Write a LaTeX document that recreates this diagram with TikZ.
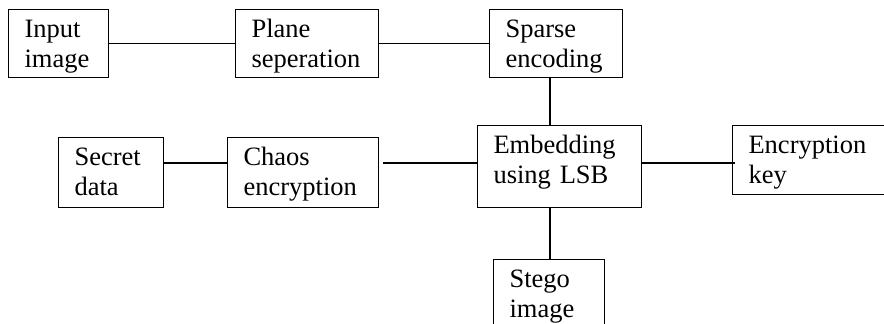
\documentclass[tikz,border=0pt]{standalone}
\usepackage{fontspec}
\setmainfont{Liberation Serif}
\usepackage{tikz}
\usetikzlibrary{positioning}

\tikzset{
    blk/.style={draw, line width=1.1pt, anchor=north west, align=left,
        inner xsep=16pt, inner ysep=0pt, text height=28pt,
        font=\fontsize{26.5}{30}\selectfont},
    link/.style={line width=1.1pt}
}

\begin{document}
\begin{tikzpicture}[x=1pt, y=1pt]
        \useasboundingbox (0,0) rectangle (884,-324);

        \node[blk, text width=68, text depth=40] (input) at (8,-9) {Input\\image};
        \node[blk, text width=111, text depth=40] (plane) at (235,-9) {Plane\\seperation};
        \node[blk, text width=101, text depth=40] (sparse) at (489,-9) {Sparse\\encoding};
        \node[blk, text width=73, text depth=42] (secret) at (58,-137) {Secret\\data};
        \node[blk, text width=119, text depth=42] (chaos) at (227,-137) {Chaos\\encryption};
        \node[blk, text width=132, text depth=54] (embed) at (477,-125) {Embedding\\using LSB};
        \node[blk, text width=138, text depth=41] (key) at (732,-125) {Encryption\\key};
        \node[blk, text width=79, text depth=46] (stego) at (493,-259) {Stego\\image};

        \coordinate (row) at (0,-163);
        \coordinate (col) at (550,0);

        \draw[link]
            (input) -- (plane)
            (plane) -- (sparse)
            (sparse.south -| col) -- (embed.north -| col)
            (secret.east |- row) -- (chaos.west |- row)
            ([xshift=4pt]chaos.east |- row) -- (embed.west |- row)
            (embed.east |- row) -- ([xshift=3pt]key.west |- row)
            (embed.south -| col) -- (stego.north -| col);
\end{tikzpicture}
\end{document}
